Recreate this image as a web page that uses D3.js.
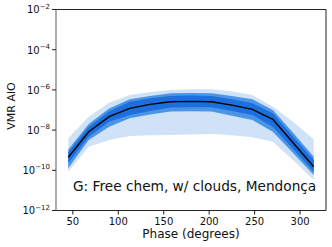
<!DOCTYPE html>
<html>
<head>
<meta charset="utf-8">
<script src="https://cdn.jsdelivr.net/npm/d3@7"></script>
<style>
  body { margin: 0; background: #fff; }
  svg { display: block; font-family: "DejaVu Sans", sans-serif; }
</style>
</head>
<body>
<svg width="332" height="247"></svg>
<script>
// orbital phases (degrees)
var phases = [45, 67.5, 90, 112.5, 135, 157.5, 180, 202.5, 225, 247.5, 270, 292.5, 315];

// log10 of the AlO VMR: median and the three credible bands
var medianLog = [-9.35, -8.08, -7.33, -6.92, -6.72, -6.59, -6.57, -6.59, -6.76, -6.97, -7.46, -8.64, -9.82];
var innerLo = [-9.65, -8.33, -7.58, -7.25, -7.05, -6.88, -6.86, -6.86, -7.05, -7.25, -7.83, -8.95, -10.07];
var innerHi = [-9.10, -7.83, -7.08, -6.59, -6.42, -6.30, -6.28, -6.30, -6.47, -6.67, -7.16, -8.33, -9.49];
var midLo = [-9.90, -8.49, -7.83, -7.41, -7.22, -7.08, -7.06, -7.08, -7.28, -7.50, -8.08, -9.15, -10.23];
var midHi = [-8.96, -7.70, -6.92, -6.47, -6.30, -6.17, -6.15, -6.17, -6.30, -6.47, -7.00, -8.15, -9.32];
var outerLo = [-10.07, -8.83, -8.49, -8.29, -8.25, -8.24, -8.22, -8.20, -8.25, -8.36, -8.58, -9.50, -10.48];
var outerHi = [-8.41, -7.33, -6.64, -6.25, -6.10, -6.00, -5.97, -5.97, -6.08, -6.25, -6.83, -7.60, -8.45];

var xTicks = [50, 100, 150, 200, 250, 300];
var yTickExps = [-2, -4, -6, -8, -10, -12];

var svg = d3.select('svg');
var plotLeft = 56, plotRight = 326, plotTop = 9.5, plotBottom = 210.5;

var x = d3.scaleLinear().domain([31.5, 328.5]).range([plotLeft, plotRight]);
var y = d3.scaleLog().domain([1e-12, 1e-2]).range([plotBottom, plotTop]);

function band(lo, hi) {
  return d3.area()
    .x(function(d, i) { return x(phases[i]); })
    .y0(function(d, i) { return y(Math.pow(10, lo[i])); })
    .y1(function(d, i) { return y(Math.pow(10, hi[i])); })(phases);
}

svg.append("path").attr("d", band(outerLo, outerHi)).attr("fill", "#cfe2f8");
svg.append("path").attr("d", band(midLo, midHi)).attr("fill", "#4b95e6");
svg.append("path").attr("d", band(innerLo, innerHi)).attr("fill", "#1c6fdc");

var line = d3.line()
  .x(function(d, i) { return x(phases[i]); })
  .y(function(d) { return y(Math.pow(10, d)); });

svg.append("path")
  .attr("d", line(medianLog))
  .attr("fill", "none")
  .attr("stroke", "#000")
  .attr("stroke-width", 1.4);

// spines
svg.append("path")
  .attr("d", "M" + plotLeft + "," + plotTop + "H" + plotRight + "V" + plotBottom + "H" + plotLeft)
  .attr("fill", "none").attr("stroke", "#222").attr("stroke-width", 1);
svg.append("line")
  .attr("x1", plotLeft).attr("x2", plotLeft).attr("y1", plotTop).attr("y2", plotBottom)
  .attr("stroke", "#888").attr("stroke-width", 1.4);

// x axis
var xg = svg.append("g");
xTicks.forEach(function(t) {
  xg.append("line").attr("x1", x(t)).attr("x2", x(t)).attr("y1", plotBottom).attr("y2", plotBottom + 4)
    .attr("stroke", "#222");
  xg.append("text").attr("x", x(t)).attr("y", 224.5).attr("text-anchor", "middle")
    .attr("font-size", 10).attr("fill", "#111").text(t);
});
svg.append("text").attr("x", (plotLeft + plotRight) / 2).attr("y", 237.5).attr("text-anchor", "middle")
  .attr("font-size", 12).attr("fill", "#111").text("Phase (degrees)");

// y axis
var yg = svg.append("g");
yTickExps.forEach(function(e) {
  var yy = y(Math.pow(10, e));
  yg.append("line").attr("x1", plotLeft - 4).attr("x2", plotLeft).attr("y1", yy).attr("y2", yy)
    .attr("stroke", "#222");
  var t = yg.append("text").attr("x", 50).attr("y", yy + 3.8).attr("text-anchor", "end")
    .attr("font-size", 10).attr("fill", "#111");
  t.append("tspan").text("10");
  t.append("tspan").attr("dy", -4.8).attr("font-size", 7).text("\u2212" + Math.abs(e));
});
svg.append("text")
  .attr("transform", "translate(15," + 106 + ") rotate(-90)")
  .attr("text-anchor", "middle").attr("font-size", 11).attr("fill", "#111")
  .text("VMR AlO");

// panel label
svg.append("text").attr("x", 73).attr("y", 190.5)
  .attr("font-size", 13.7).attr("fill", "#111")
  .text("G: Free chem, w/ clouds, Mendonça");
</script>
</body>
</html>
